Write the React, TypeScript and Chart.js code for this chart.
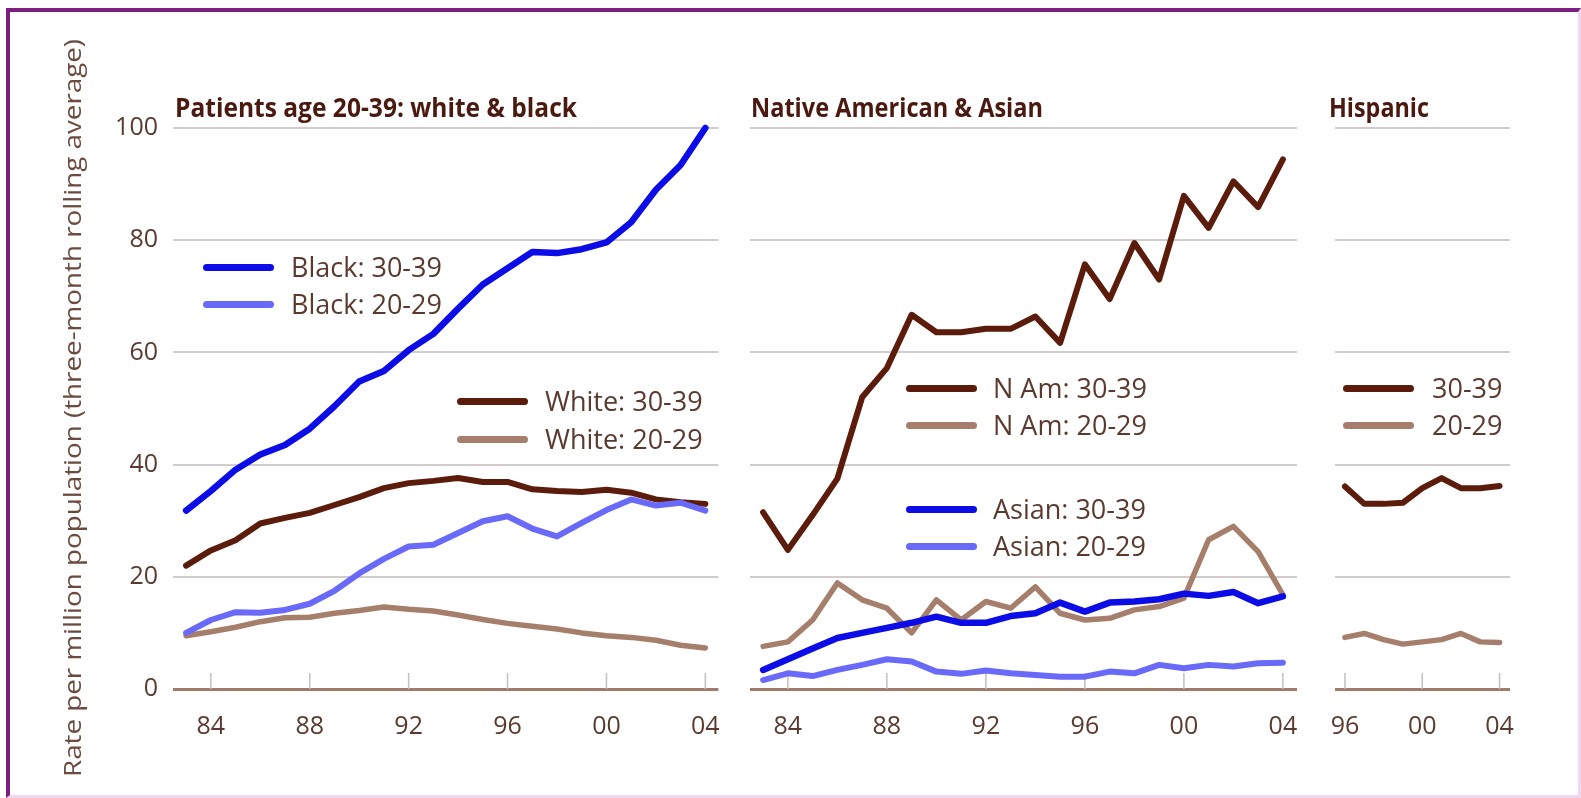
import React, { useEffect, useLayoutEffect, useRef, useState } from "react";
import { Chart, registerables } from "chart.js";
Chart.register(...registerables);

// ---------------- data ----------------
const yearsLong = [1983, 1984, 1985, 1986, 1987, 1988, 1989, 1990, 1991, 1992, 1993, 1994, 1995, 1996, 1997, 1998, 1999, 2000, 2001, 2002, 2003, 2004];
const yearsHispanic = [1996, 1997, 1998, 1999, 2000, 2001, 2002, 2003, 2004];

const black3039 = [31.8, 35.3, 39.1, 41.8, 43.5, 46.4, 50.4, 54.8, 56.7, 60.4, 63.3, 67.8, 72.1, 75.0, 77.9, 77.7, 78.4, 79.6, 83.2, 89.0, 93.4, 100.0];
const black2029 = [10.0, 12.3, 13.7, 13.6, 14.1, 15.2, 17.5, 20.6, 23.2, 25.4, 25.7, 27.8, 29.9, 30.8, 28.6, 27.2, 29.6, 31.9, 33.8, 32.7, 33.2, 31.8];
const white3039 = [22.0, 24.7, 26.5, 29.5, 30.5, 31.4, 32.8, 34.2, 35.8, 36.7, 37.1, 37.6, 36.9, 36.9, 35.6, 35.3, 35.1, 35.5, 35.0, 33.8, 33.3, 33.0];
const white2029 = [9.5, 10.2, 11.0, 12.0, 12.7, 12.8, 13.5, 14.0, 14.6, 14.2, 13.9, 13.2, 12.4, 11.7, 11.2, 10.7, 10.0, 9.5, 9.2, 8.7, 7.8, 7.3];

const nAm3039 = [31.5, 24.8, 31.0, 37.5, 52.0, 57.2, 66.7, 63.6, 63.6, 64.2, 64.2, 66.4, 61.7, 75.7, 69.5, 79.5, 73.0, 87.9, 82.2, 90.5, 85.9, 94.4];
const nAm2029 = [7.6, 8.4, 12.3, 18.9, 15.9, 14.4, 10.0, 15.9, 12.3, 15.6, 14.4, 18.2, 13.5, 12.3, 12.6, 14.1, 14.7, 16.2, 26.6, 29.0, 24.5, 16.8];
const asian3039 = [3.4, 5.3, 7.2, 9.1, 10.0, 10.9, 11.8, 12.9, 11.8, 11.8, 13.0, 13.5, 15.4, 13.8, 15.4, 15.6, 16.0, 17.0, 16.6, 17.3, 15.3, 16.5];
const asian2029 = [1.6, 2.8, 2.3, 3.4, 4.3, 5.3, 4.9, 3.1, 2.7, 3.3, 2.8, 2.5, 2.2, 2.2, 3.1, 2.8, 4.3, 3.7, 4.3, 4.0, 4.6, 4.7];

const hisp3039 = [36.1, 33.0, 33.0, 33.2, 35.8, 37.6, 35.8, 35.8, 36.2];
const hisp2029 = [9.2, 9.9, 8.8, 8.0, 8.4, 8.8, 9.9, 8.4, 8.3];

const xTicksLong = [1984, 1988, 1992, 1996, 2000, 2004];
const xTicksHispanic = [1996, 2000, 2004];
const yTicks = [0, 20, 40, 60, 80, 100];

const panelTitles = ["Patients age 20-39: white & black", "Native American & Asian", "Hispanic"];
const yAxisTitle = "Rate per million population (three-month rolling average)";

const panel1Labels = ["Black: 30-39", "Black: 20-29", "White: 30-39", "White: 20-29"];
const panel2Labels = ["N Am: 30-39", "N Am: 20-29", "Asian: 30-39", "Asian: 20-29"];
const panel3Labels = ["30-39", "20-29"];

// ---------------- styles ----------------
const BLUE = "#0c0ce6";
const PERI = "#6969fa";
const DARK = "#5c1c0c";
const TAN = "#a57f6b";
const TEXT = "#5a3a2e";
const TITLE = "#4a1a10";
const GRID = "#d2cccc";
const ZERO = "#a07c68";
const FONT = '"Open Sans"';

const H = 798;
const PLOT_TOP = 128;
const PLOT_BOTTOM = 689;

type Series = { label: string; values: number[]; color: string; width: number };

const innerTicks = {
  id: "innerTicks",
  beforeDatasetsDraw(chart: any) {
    const { ctx, chartArea, scales } = chart;
    const x = scales.x;
    ctx.save();
    ctx.strokeStyle = "#c6bfbf";
    ctx.lineWidth = 1.5;
    x.ticks.forEach((t: any) => {
      const px = x.getPixelForValue(t.value);
      ctx.beginPath();
      ctx.moveTo(px, chartArea.bottom - 16);
      ctx.lineTo(px, chartArea.bottom);
      ctx.stroke();
    });
    ctx.restore();
  },
};

const yTitlePlugin = {
  id: "yTitle",
  afterDraw(chart: any) {
    const { ctx } = chart;
    ctx.save();
    ctx.font = `24px ${FONT}`;
    const w = ctx.measureText(yAxisTitle).width;
    const target = 738;
    ctx.translate(74, 408);
    ctx.rotate(-Math.PI / 2);
    ctx.scale(target / w, 1);
    ctx.fillStyle = "#6b4b3f";
    ctx.textAlign = "center";
    ctx.textBaseline = "middle";
    ctx.fillText(yAxisTitle, 0, 0);
    ctx.restore();
  },
};

function PanelChart(props: {
  left: number;
  width: number;
  padLeft: number;
  padRight: number;
  years: number[];
  series: Series[];
  xMin: number;
  xMax: number;
  xTicks: number[];
  showY: boolean;
}) {
  const ref = useRef<HTMLCanvasElement>(null);
  useEffect(() => {
    const p = props;
    const chart = new Chart(ref.current as HTMLCanvasElement, {
      type: "line",
      data: {
        datasets: p.series.map((s) => ({
          label: s.label,
          data: p.years.map((yr, i) => ({ x: yr, y: s.values[i] })),
          borderColor: s.color,
          backgroundColor: s.color,
          borderWidth: s.width,
          pointRadius: 0,
          tension: 0,
          borderJoinStyle: "round",
          borderCapStyle: "round",
          clip: false,
          fill: false,
        })),
      } as any,
      options: {
        responsive: false,
        animation: false,
        events: [],
        layout: { padding: { left: p.padLeft, right: p.padRight, top: PLOT_TOP, bottom: 0 } },
        plugins: { legend: { display: false }, tooltip: { enabled: false }, title: { display: false } },
        scales: {
          x: {
            type: "linear",
            min: p.xMin,
            max: p.xMax,
            afterBuildTicks: (s: any) => {
              s.ticks = p.xTicks.map((v) => ({ value: v }));
            },
            afterFit: (s: any) => {
              s.height = H - PLOT_BOTTOM;
            },
            grid: { display: false },
            border: { display: false },
            ticks: {
              autoSkip: false,
              maxRotation: 0,
              padding: 15,
              color: TEXT,
              font: { family: FONT, size: 25 },
              callback: (v: any) => String(v).slice(2),
            },
          },
          y: {
            min: 0,
            max: 100,
            afterBuildTicks: (s: any) => {
              s.ticks = yTicks.map((v) => ({ value: v }));
            },
            afterFit: (s: any) => {
              s.width = p.showY ? 173 - p.padLeft : 0;
            },
            grid: {
              drawTicks: false,
              color: (c: any) => (c.tick && c.tick.value === 0 ? ZERO : GRID),
              lineWidth: (c: any) => (c.tick && c.tick.value === 0 ? 3 : 2),
            },
            border: { display: false },
            ticks: {
              display: p.showY,
              padding: 15,
              color: TEXT,
              font: { family: FONT, size: 25 },
            },
          },
        },
      } as any,
      plugins: p.showY ? [innerTicks, yTitlePlugin] : [innerTicks],
    });
    return () => chart.destroy();
  }, []);
  return (
    <canvas
      ref={ref}
      width={props.width}
      height={H}
      style={{ position: "absolute", left: props.left, top: 0, width: props.width, height: H }}
    />
  );
}

function FitText(props: { text: string; left: number; top: number; width: number; font: string; color: string }) {
  const [scale, setScale] = useState(1);
  useLayoutEffect(() => {
    const c = document.createElement("canvas").getContext("2d") as CanvasRenderingContext2D;
    c.font = props.font;
    const w = c.measureText(props.text).width;
    setScale(props.width / w);
  }, []);
  return (
    <div
      style={{
        position: "absolute",
        left: props.left,
        top: props.top,
        font: props.font,
        lineHeight: "27px",
        color: props.color,
        whiteSpace: "nowrap",
        transform: `scaleX(${scale})`,
        transformOrigin: "left top",
      }}
    >
      {props.text}
    </div>
  );
}

function LegendItem(props: { x: number; y: number; textX: number; color: string; label: string }) {
  return (
    <>
      <div
        style={{
          position: "absolute",
          left: props.x,
          top: props.y - 3.5,
          width: 71,
          height: 7,
          borderRadius: 3.5,
          background: props.color,
        }}
      />
      <div
        style={{
          position: "absolute",
          left: props.textX,
          top: props.y - 14,
          font: `27px ${FONT}`,
          lineHeight: "27px",
          color: TEXT,
          whiteSpace: "nowrap",
        }}
      >
        {props.label}
      </div>
    </>
  );
}

export default function App() {
  const p1: Series[] = [
    { label: panel1Labels[0], values: black3039, color: BLUE, width: 6.5 },
    { label: panel1Labels[1], values: black2029, color: PERI, width: 6 },
    { label: panel1Labels[2], values: white3039, color: DARK, width: 6 },
    { label: panel1Labels[3], values: white2029, color: TAN, width: 5.5 },
  ];
  const p2: Series[] = [
    { label: panel2Labels[2], values: asian3039, color: BLUE, width: 6.5 },
    { label: panel2Labels[3], values: asian2029, color: PERI, width: 6 },
    { label: panel2Labels[0], values: nAm3039, color: DARK, width: 6 },
    { label: panel2Labels[1], values: nAm2029, color: TAN, width: 5.5 },
  ];
  const p3: Series[] = [
    { label: panel3Labels[0], values: hisp3039, color: DARK, width: 6 },
    { label: panel3Labels[1], values: hisp2029, color: TAN, width: 5.5 },
  ];
  const boldFont = `bold 27px ${FONT}`;
  return (
    <div style={{ position: "absolute", left: 0, top: 0, width: 1581, height: H, background: "#fff", overflow: "hidden" }}>
      <div
        style={{
          position: "absolute",
          left: 6,
          top: 8,
          width: 1575,
          height: 790,
          boxSizing: "border-box",
          borderTop: "4px solid #7d1f82",
          borderLeft: "4px solid #7d1f82",
          borderRight: "3px solid #f1d5f1",
          borderBottom: "3px solid #f1d5f1",
        }}
      />
      <PanelChart left={0} width={735} padLeft={0} padRight={15} years={yearsLong} series={p1} xMin={1982.47} xMax={2004.53} xTicks={xTicksLong} showY={true} />
      <PanelChart left={735} width={580} padLeft={15} padRight={18} years={yearsLong} series={p2} xMin={1982.47} xMax={2004.57} xTicks={xTicksLong} showY={false} />
      <PanelChart left={1315} width={225} padLeft={12} padRight={30} years={yearsHispanic} series={p3} xMin={1995.51} xMax={2004.54} xTicks={xTicksHispanic} showY={false} />

      <FitText text={panelTitles[0]} left={175} top={93} width={402} font={boldFont} color={TITLE} />
      <FitText text={panelTitles[1]} left={751} top={93} width={292} font={boldFont} color={TITLE} />
      <FitText text={panelTitles[2]} left={1329} top={93} width={100} font={boldFont} color={TITLE} />

      <LegendItem x={203} y={267} textX={291} color={BLUE} label={panel1Labels[0]} />
      <LegendItem x={203} y={304} textX={291} color={PERI} label={panel1Labels[1]} />
      <LegendItem x={457} y={401} textX={545} color={DARK} label={panel1Labels[2]} />
      <LegendItem x={457} y={439} textX={545} color={TAN} label={panel1Labels[3]} />

      <LegendItem x={906} y={388} textX={993} color={DARK} label={panel2Labels[0]} />
      <LegendItem x={906} y={425} textX={993} color={TAN} label={panel2Labels[1]} />
      <LegendItem x={906} y={509} textX={993} color={BLUE} label={panel2Labels[2]} />
      <LegendItem x={906} y={546} textX={993} color={PERI} label={panel2Labels[3]} />

      <LegendItem x={1343} y={388} textX={1432} color={DARK} label={panel3Labels[0]} />
      <LegendItem x={1343} y={425} textX={1432} color={TAN} label={panel3Labels[1]} />
    </div>
  );
}
